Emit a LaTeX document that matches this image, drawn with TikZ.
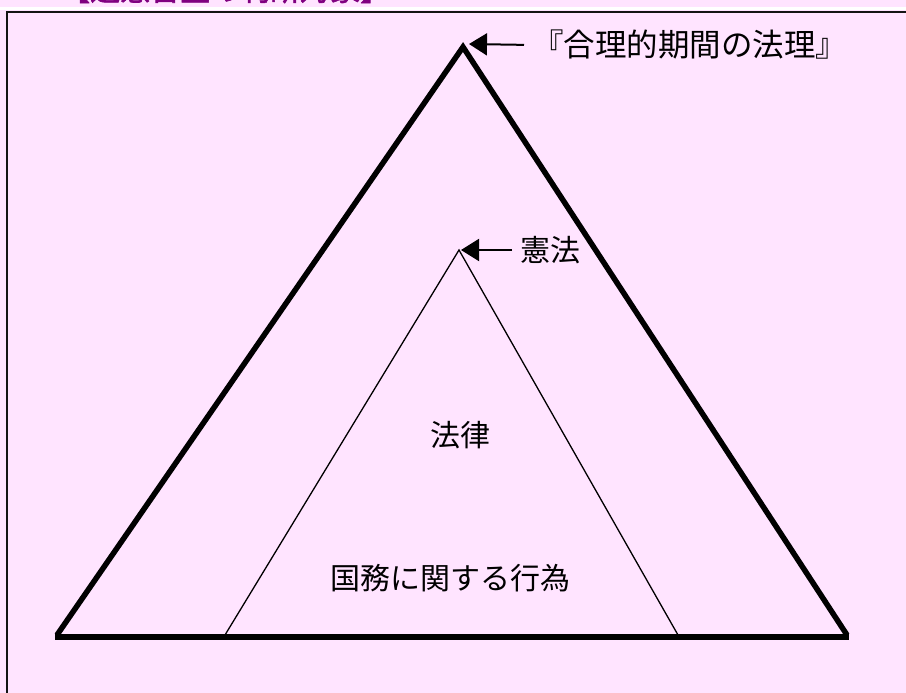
\documentclass[tikz,border=0pt]{standalone}
\usepackage{fontspec}
\newfontfamily\cjk{Noto Sans CJK JP}
\newfontfamily\cjkbold[FakeBold=2]{Noto Sans CJK JP}
\usetikzlibrary{arrows.meta}
\definecolor{bgpink}{RGB}{255,228,255}
\definecolor{titlepurple}{RGB}{128,0,128}
\definecolor{frameline}{RGB}{20,20,20}
\tikzset{
  lbl/.style={font=\cjk\fontsize{30}{36}\selectfont, inner sep=0pt, text=black},
  biglbl/.style={font=\cjk\fontsize{31.5}{36}\selectfont, inner sep=0pt, text=black},
  titlelbl/.style={font=\cjkbold\fontsize{30}{36}\selectfont, inner sep=0pt, text=titlepurple},
  bigside/.style={line width=5.5pt, line join=miter, draw=black},
  bigbase/.style={line width=6pt, draw=black},
  smallside/.style={line width=1.3pt, draw=black},
  ptr/.style={line width=2pt, draw=black, -{Triangle[length=18pt,width=22pt]}},
  framestyle/.style={line width=1.6pt, draw=frameline}
}
\begin{document}
\begin{tikzpicture}[x=1pt,y=-1pt]
  \clip (0,0) rectangle (906,693);
  \useasboundingbox (0,0) rectangle (906,693);
  \fill[bgpink] (0,0) rectangle (906,693);
  % title (cut off by the top edge)
  \node[titlelbl, anchor=base west] (title) at (60,0.5) {【違憲審査の判断対象】};
  \fill[white] (0,7) rectangle (906,10);
  % frame (top and left edges only visible)
  \coordinate (frameTR) at (910,12);
  \coordinate (frameTL) at (7,12);
  \coordinate (frameBL) at (7,700);
  \draw[framestyle] (frameTR) -- (frameTL) -- (frameBL);
  % big triangle
  \coordinate (bigL) at (57,635);
  \coordinate (bigApex) at (463,47);
  \coordinate (bigR) at (847,635);
  \coordinate (baseL) at (55,637);
  \coordinate (baseR) at (849,637);
  \draw[bigside] (bigL) -- (bigApex) -- (bigR);
  \draw[bigbase] (baseL) -- (baseR);
  % small triangle
  \coordinate (smL) at (225,635);
  \coordinate (smApex) at (459,250);
  \coordinate (smR) at (678,635);
  \draw[smallside] (smL) -- (smApex) -- (smR);
  % labels
  \node[biglbl, anchor=west] (lblRule) at (532,45) {『合理的期間の法理』};
  \node[lbl, anchor=west] (lblConst) at (520,250) {憲法};
  \node[lbl] (lblLaw) at (460,435) {法律};
  \node[lbl] (lblAct) at (450,578) {国務に関する行為};
  % arrows
  \coordinate (tipRule) at (469,44);
  \coordinate (tipConst) at (461,250);
  \draw[ptr, shorten <=8pt] (lblRule.west) -- (tipRule);
  \draw[ptr, shorten <=8pt] (lblConst.west) -- (tipConst);
\end{tikzpicture}
\end{document}
